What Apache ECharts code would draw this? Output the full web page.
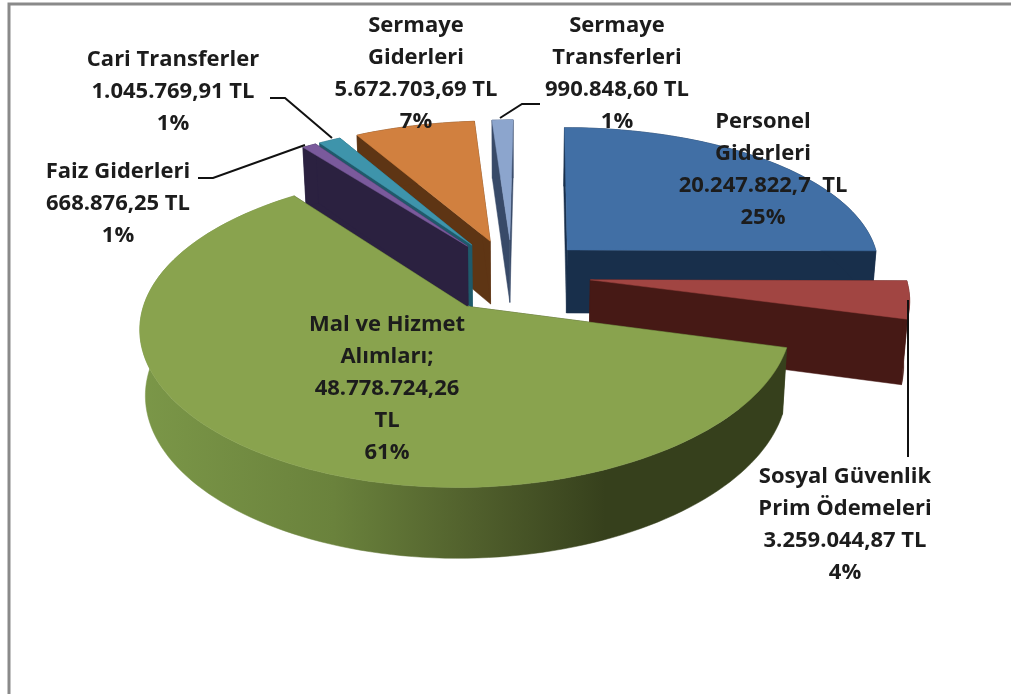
<!DOCTYPE html>
<html>
<head>
<meta charset="utf-8">
<style>
  html, body { margin: 0; padding: 0; background: #fff; }
  #chart { width: 1011px; height: 694px; }
</style>
<script src="https://cdn.jsdelivr.net/npm/echarts@6/dist/echarts.min.js"></script>
</head>
<body>
<div id="chart"></div>
<script>
// clockwise from 12 o'clock, same order as the source sheet
const sliceNames = ['Personel Giderleri', 'Sosyal Güvenlik Prim Ödemeleri', 'Mal ve Hizmet Alımları', 'Faiz Giderleri', 'Cari Transferler', 'Sermaye Giderleri', 'Sermaye Transferleri']
const sliceValues = [20247822.7, 3259044.87, 48778724.26, 668876.25, 1045769.91, 5672703.69, 990848.6]
const valueTexts = ['20.247.822,7  TL', '3.259.044,87 TL', '48.778.724,26 TL', '668.876,25 TL', '1.045.769,91 TL', '5.672.703,69 TL', '990.848,60 TL']
const percentTexts = ['25%', '4%', '61%', '1%', '1%', '7%', '1%']

const topColors = ['#416fa5', '#a14542', '#89a34e', '#7a5a9c', '#3e94ab', '#d1803f', '#8ca5cd']
const wallColors = ['#182f4b', '#461915', '#36401c', '#2b2140', '#1f5a6b', '#5e3514', '#384a68']
// index order in which slices are painted, back to front
const paintOrder = [0, 6, 5, 4, 3, 1, 2]

// text lines for every label, and where they go
const labelLines = [
  ['Personel', 'Giderleri', valueTexts[0], percentTexts[0]],
  ['Sosyal Güvenlik', 'Prim Ödemeleri', valueTexts[1], percentTexts[1]],
  ['Mal ve Hizmet', 'Alımları;', '48.778.724,26', 'TL', percentTexts[2]],
  ['Faiz Giderleri', valueTexts[3], percentTexts[3]],
  ['Cari Transferler', valueTexts[4], percentTexts[4]],
  ['Sermaye', 'Giderleri', valueTexts[5], percentTexts[5]],
  ['Sermaye', 'Transferleri', valueTexts[6], percentTexts[6]]
]
const labelPos = [[763, 122], [845, 477], [387, 325], [118, 172], [173, 60], [416, 26], [617, 26]]
const leaders = [
  [[270, 98], [285, 98], [332, 138]],
  [[198, 178], [213, 178], [305, 145]],
  [[908, 300], [908, 457]],
  [[540, 104], [522, 104], [500, 118]]
]

// the fake 3d view
const view = { cx: 512, cy: 275, a: 315, b: 146, kx: 0.12, ky: 0.1407, kz: 0.08, shear: 3, depth: 64, explode: 0.25 }

function project(u, v, z) {
  return [
    view.cx + (view.a * u / (1 - view.kx * v)) * (1 - z * 0.015) - view.shear * v,
    view.cy + view.b * v / (1 - view.ky * v) + z * view.depth / (1 - view.kz * v)
  ]
}

function renderSlice(params, api) {
  const i = api.value(0)
  const start = api.value(1) * Math.PI / 180
  const end = api.value(2) * Math.PI / 180
  const mid = (start + end) / 2
  const ox = view.explode * Math.sin(mid)
  const oy = -view.explode * Math.cos(mid)

  // rim of the slice, sampled along the arc
  const steps = Math.max(4, Math.ceil((end - start) / 0.03))
  const rim = (z) => {
    const pts = []
    for (let s = 0; s <= steps; s++) {
      const t = start + (end - start) * s / steps
      pts.push(project(ox + Math.sin(t), oy - Math.cos(t), z))
    }
    return pts
  }
  const top = rim(0)
  const bottom = rim(1)
  const apexTop = project(ox, oy, 0)
  const apexBottom = project(ox, oy, 1)
  const wallFill = i === 2
    ? new echarts.graphic.LinearGradient(0, 0, 1, 0, [
        { offset: 0, color: '#7b9748' },
        { offset: 0.3, color: '#6a823c' },
        { offset: 0.52, color: '#505f2c' },
        { offset: 0.72, color: '#36401c' },
        { offset: 1, color: '#36401c' }
      ])
    : wallColors[i]

  const face = (points, fill) => ({
    type: 'polygon',
    shape: { points: points },
    style: { fill: fill, stroke: fill, lineWidth: 0.5 }
  })

  return {
    type: 'group',
    children: [
      face([apexTop, top[0], bottom[0], apexBottom], wallColors[i]),
      face([apexTop, top[steps], bottom[steps], apexBottom], wallColors[i]),
      face(top.concat(bottom.slice().reverse()), wallFill),
      face([apexTop].concat(top), topColors[i])
    ]
  }
}

function renderLabels(params, api) {
  const i = api.value(0)
  const pos = labelPos[i]
  return {
    type: 'group',
    children: labelLines[i].map((line, n) => ({
      type: 'text',
      style: {
        text: line,
        x: pos[0],
        y: pos[1] + n * 32,
        align: 'center',
        verticalAlign: 'middle',
        font: 'bold 22px "Open Sans"',
        fill: '#1c1c1c'
      }
    }))
  }
}

const total = sliceValues.reduce((sum, v) => sum + v, 0)
let running = 0
const sliceAngles = sliceValues.map((v) => {
  const from = running / total * 360
  running += v
  return [from, running / total * 360]
})

// the frame only shows on the top and left sides
const frameLine = {
  type: 'polyline',
  silent: true,
  shape: { points: [[9, 694], [9, 4], [1011, 4]] },
  style: { fill: 'none', stroke: '#8a8a8a', lineWidth: 3 }
}
const leaderLines = leaders.map((pts) => ({
  type: 'polyline',
  silent: true,
  z: 3,
  shape: { points: pts },
  style: { fill: 'none', stroke: '#111', lineWidth: 2 }
}))

const chart = echarts.init(document.getElementById('chart'))
chart.setOption({
  animation: false,
  backgroundColor: '#fff',
  graphic: [frameLine].concat(leaderLines),
  series: [
    {
      type: 'custom',
      coordinateSystem: 'none',
      silent: true,
      renderItem: renderSlice,
      z: 2,
      data: paintOrder.map((i) => ({ name: sliceNames[i], value: [i, sliceAngles[i][0], sliceAngles[i][1]] }))
    },
    {
      type: 'custom',
      coordinateSystem: 'none',
      silent: true,
      renderItem: renderLabels,
      z: 4,
      data: sliceNames.map((name, i) => ({ name: name, value: [i] }))
    }
  ]
})
</script>
</body>
</html>
